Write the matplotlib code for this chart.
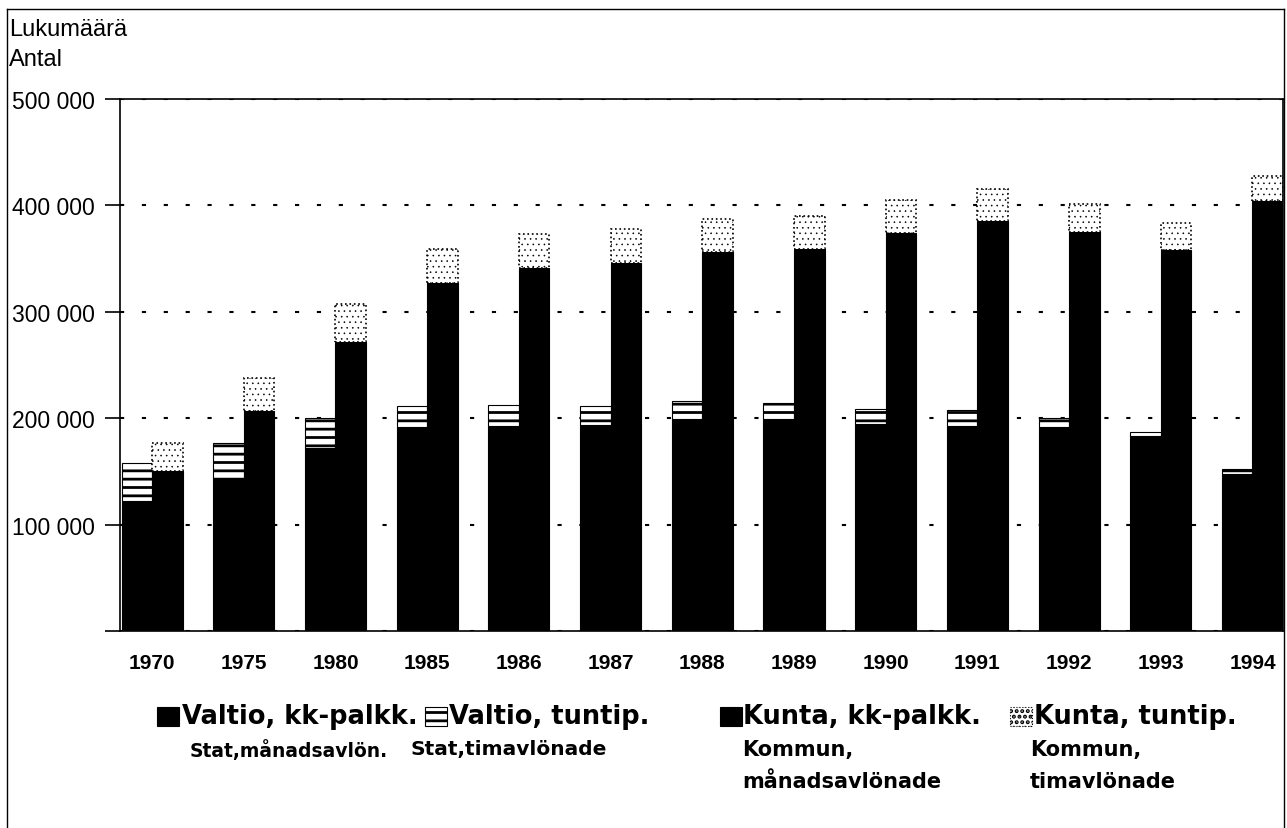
import matplotlib
matplotlib.use("Agg")
import matplotlib.pyplot as plt
from matplotlib.patches import Rectangle
from matplotlib.lines import Line2D
import numpy as np

plt.rcParams['font.family'] = ['Liberation Sans', 'DejaVu Sans']
plt.rcParams['hatch.linewidth'] = 2.0

# Values (persons)
years = ['1970', '1975', '1980', '1985', '1986', '1987', '1988',
         '1989', '1990', '1991', '1992', '1993', '1994']
valtio_kk = [122000, 143000, 172000, 192000, 193000, 194000, 199000,
             199000, 195000, 193000, 192000, 183000, 148000]
valtio_tunt = [36000, 34000, 28000, 19000, 19000, 17000, 17000,
               15000, 14000, 15000, 8000, 4000, 4000]
kunta_kk = [150000, 207000, 272000, 327000, 341000, 346000, 356000,
            359000, 374000, 385000, 375000, 358000, 404000]
kunta_tunt = [27000, 31000, 35000, 32000, 32000, 32000, 31000,
              31000, 31000, 30000, 26000, 25000, 24000]

yticks = [0, 100000, 200000, 300000, 400000, 500000]
ytick_labels = ['', '100 000', '200 000', '300 000', '400 000', '500 000']

W, H = 1287, 829
fig = plt.figure(figsize=(W / 100, H / 100), dpi=100)


def fx(px):
    return px / W


def fy(py):
    return 1 - py / H


ax = fig.add_axes([fx(120), fy(632), fx(1283) - fx(120), fy(100) - fy(632)])

x = np.arange(len(years))
w = 1 / 3
ax.bar(x - w / 2, valtio_kk, w, color='black', edgecolor='black', linewidth=0.8)
ax.bar(x - w / 2, valtio_tunt, w, bottom=valtio_kk, color='white',
       edgecolor='black', hatch='--', linewidth=0.8)
ax.bar(x + w / 2, kunta_kk, w, color='black', edgecolor='black', linewidth=0.8)
bars = ax.bar(x + w / 2, kunta_tunt, w, bottom=kunta_kk, color='white',
              edgecolor='black', hatch='...', linewidth=1.2, linestyle=':')
for b in bars:
    try:
        b.set_hatch_linewidth(0.4)
    except AttributeError:
        pass

ax.set_xlim(-0.35, len(years) - 1 + 0.333)
ax.set_ylim(0, 500000)
ax.set_yticks(yticks)
ax.set_yticklabels(ytick_labels, fontsize=16.5)
ax.set_xticks(x)
ax.set_xticklabels(years, fontsize=15, fontweight='bold')
ax.tick_params(axis='x', length=0, pad=16)
ax.tick_params(axis='y', length=11, width=1.2, pad=7, direction='out')

ax.set_axisbelow(True)
ax.grid(axis='y', color='black', linewidth=1.5, linestyle=(0, (2, 8.5)))
for s in ax.spines.values():
    s.set_linewidth(1.2)
    s.set_color('black')

# header text
fig.text(fx(9), fy(30), 'Lukumäärä', fontsize=17, va='center', ha='left')
fig.text(fx(9), fy(60), 'Antal', fontsize=17, va='center', ha='left')

# outer frame
for xs, ys in [((7, 7), (10, 829)), ((7, 1284), (10, 10)), ((1284, 1284), (10, 829))]:
    fig.add_artist(Line2D([fx(xs[0]), fx(xs[1])], [fy(ys[0]), fy(ys[1])],
                          color='black', linewidth=1.0, transform=fig.transFigure))

# legend built by hand
handles = [
    (157, dict(facecolor='black', edgecolor='black')),
    (425, dict(facecolor='white', edgecolor='black', hatch='--')),
    (720, dict(facecolor='black', edgecolor='black')),
    (1010, dict(facecolor='white', edgecolor='black', hatch='...', linestyle=':')),
]
for hx, style in handles:
    fig.add_artist(Rectangle((fx(hx), fy(727)), fx(22), 19 / H,
                             transform=fig.transFigure, linewidth=0.8, **style))

main_labels = [(182, 'Valtio, kk-palkk.'), (449, 'Valtio, tuntip.'),
               (743, 'Kunta, kk-palkk.'), (1034, 'Kunta, tuntip.')]
for tx, t in main_labels:
    fig.text(fx(tx), fy(717), t, fontsize=18.5, fontweight='bold', va='center',
             ha='left', family='DejaVu Sans')

sub_labels = [(190, 'Stat,månadsavlön.', 13.5), (410, 'Stat,timavlönade', 14.5),
              (742, 'Kommun,\nmånadsavlönade', 15), (1030, 'Kommun,\ntimavlönade', 15)]
for tx, t, fs in sub_labels:
    fig.text(fx(tx), fy(740), t, fontsize=fs, fontweight='bold', va='top', ha='left',
             linespacing=1.75, family='DejaVu Sans')

fig.savefig('out.png', dpi=100)
